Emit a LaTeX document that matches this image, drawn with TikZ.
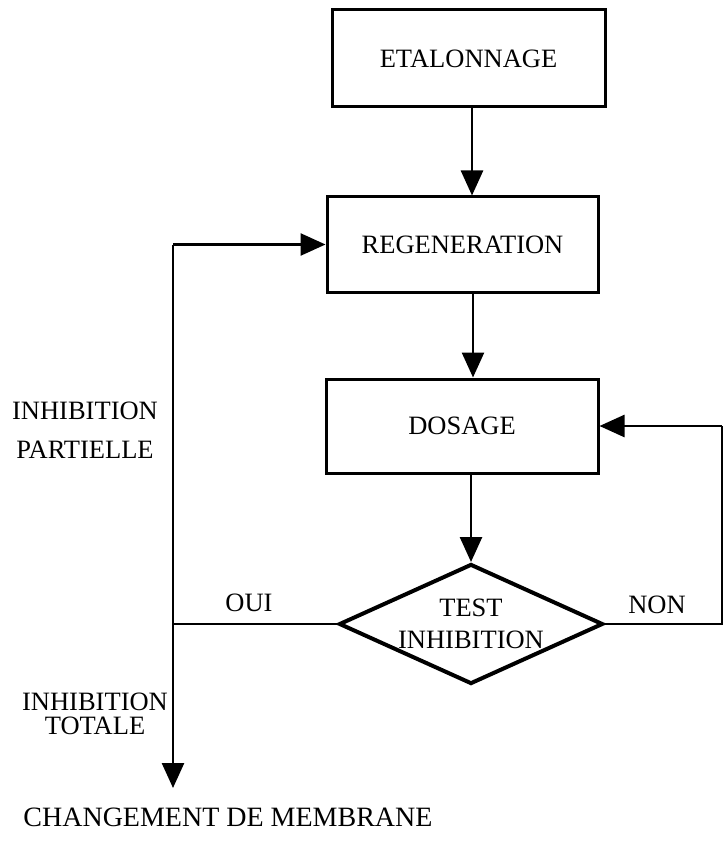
\documentclass[tikz,border=0pt]{standalone}
\usepackage{fontspec}
\setmainfont{Liberation Serif}
\usetikzlibrary{arrows.meta,shapes.geometric}
\begin{document}
\begin{tikzpicture}[x=1pt,y=-1pt,
  every node/.style={font=\fontsize{26.5}{26.5}\selectfont},
  procbox/.style={draw,line width=3pt,rectangle,inner sep=0pt},
  testbox/.style={draw,line width=4pt,diamond,aspect=2.2,inner sep=0pt,
    minimum width=264pt,minimum height=120pt,align=center},
  conn/.style={line width=2.6pt},
  arr/.style={conn,-{Triangle[length=25pt,width=22pt]}},
  lbl/.style={inner sep=0pt,align=center}]
\fill[white] (0,0) rectangle (724,842);
\useasboundingbox (0,0) rectangle (724,842);

\node[procbox,minimum width=273pt,minimum height=97pt] (etal) at (468.5,58.5) {ETALONNAGE};
\node[procbox,minimum width=271pt,minimum height=95pt] (regen) at (462.5,244.5) {REGENERATION};
\node[procbox,minimum width=272pt,minimum height=94pt] (dosage) at (462,426) {DOSAGE};
\node[testbox] (test) at (471,624) {TEST\\[5pt]INHIBITION};

\coordinate (ltop) at (173,244.5);
\coordinate (lend) at (173,788);
\coordinate (rtop) at (722,426);

\draw[arr] (etal.south -| 472,0) -- (regen.north -| 472,0);
\draw[arr] (regen.south -| 473,0) -- (dosage.north -| 473,0);
\draw[arr] (dosage.south -| test.north) -- (test.north);
\draw[conn] (test.west) -- (test.west -| ltop);
\draw[arr] (ltop) -- (lend);
\draw[arr] (ltop) -- (regen.west);
\draw[conn] (test.east) -- (test.east -| rtop) -- (rtop);
\draw[arr] (rtop) -- (dosage.east);

\node[lbl] (oui) at (249,603) {OUI};
\node[lbl] (non) at (657,605) {NON};
\node[lbl] (partielle) at (85,430) {INHIBITION\\[12pt]PARTIELLE};
\node[lbl] (totale) at (95,714) {INHIBITION\\[-2pt]TOTALE};
\node[lbl,font=\fontsize{28}{28}\selectfont] (membrane) at (228,817) {CHANGEMENT DE MEMBRANE};
\end{tikzpicture}
\end{document}
